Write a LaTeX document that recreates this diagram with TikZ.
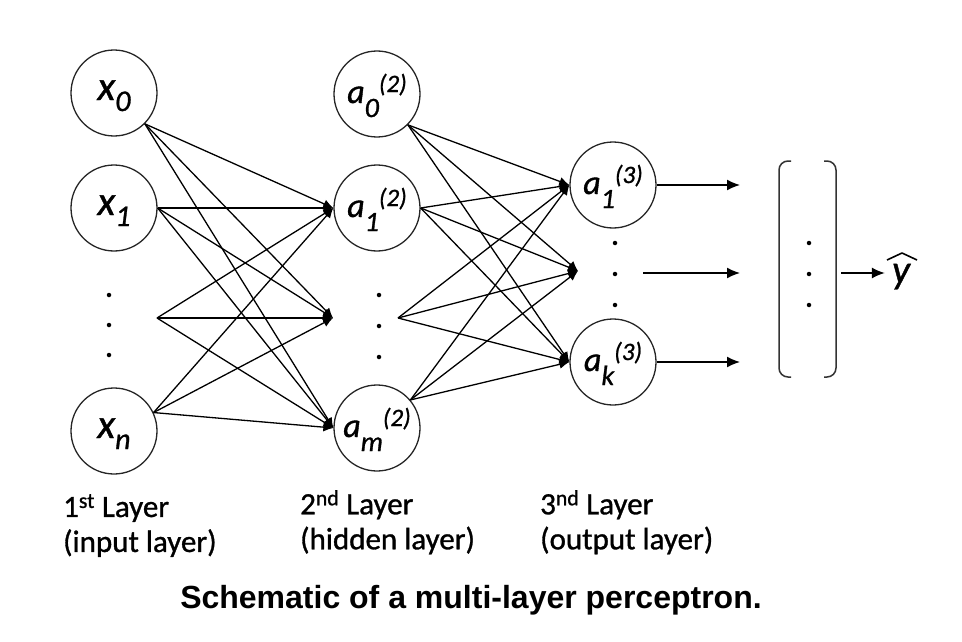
\documentclass[tikz,border=0pt]{standalone}
\usepackage{fontspec}
\setmainfont{Carlito}[FakeBold=1]
\newfontfamily\capfont{Liberation Sans}
\usetikzlibrary{arrows.meta}
\newcommand{\xsub}[1]{\raisebox{-11pt}{\fontsize{30}{30}\selectfont #1}}
\newcommand{\asub}[1]{\raisebox{-14pt}{\fontsize{28}{28}\selectfont #1}}
\newcommand{\asup}[1]{\raisebox{11pt}{\fontsize{25}{25}\selectfont #1}}

\begin{document}
\begin{tikzpicture}[x=1pt,y=-1pt]
        \tikzstyle{neuron}=[circle,draw=black!85,line width=1.3pt,minimum size=86pt,inner sep=0pt,text height=23pt,text depth=5pt,font=\fontsize{34}{36}\selectfont\itshape]
        \tikzstyle{inneuron}=[neuron,text height=20pt,text depth=6pt,font=\fontsize{41}{42}\selectfont\itshape]
        \tikzstyle{link}=[draw,line width=1.3pt,-{Latex[length=10pt,width=9pt]}]
        \tikzstyle{outarrow}=[draw,line width=1.5pt,-{Latex[length=13pt,width=11pt]}]
        \tikzstyle{dot}=[circle,fill=black,inner sep=0pt,minimum size=4.5pt]
        \tikzstyle{layer}=[align=left,anchor=north west,inner sep=0pt,font=\fontsize{31}{35}\selectfont]
        \useasboundingbox (0,0) rectangle (962,642);

        % input layer
        \node [inneuron] (x0) at (114,93) {x\xsub{0}};
        \node [inneuron] (x1) at (114,208) {x\xsub{1}};
        \node [inneuron] (xn) at (114,431) {x\xsub{n}};
        \foreach \y [count=\i] in {295,325,355}
          \node [dot] (d1\i) at (109,\y) {};
        \coordinate (h1) at (157,318);

        % hidden layer
        \node [neuron] (a0) at (377,94) {a\asub{0}\asup{(2)}};
        \node [neuron] (a1) at (377,208) {a\asub{1}\asup{(2)}};
        \node [neuron] (am) at (377,428) {a\asub{m}\asup{(2)}};
        \foreach \y [count=\i] in {295,326,357}
          \node [dot] (d2\i) at (379,\y) {};
        \coordinate (t2) at (333,318);
        \coordinate (h2) at (398,318);

        % output layer
        \node [neuron] (b1) at (613,185) {a\asub{1}\asup{(3)}};
        \node [neuron] (bk) at (613,362) {a\asub{k}\asup{(3)}};
        \foreach \y [count=\i] in {243,274,305}
          \node [dot] (d3\i) at (615,\y) {};
        \coordinate (t3) at (578,271);

        \foreach \s in {x0.south east,x1.east,h1,xn.25}
          \foreach \t in {a1.west,t2,am.west}
            \path (\s) edge[link] (\t);
        \foreach \s in {a0.south east,a1.east,h2,am.40}
          \foreach \t in {b1.west,t3,bk.west}
            \path (\s) edge[link] (\t);

        % output vector
        \coordinate (o1) at (740,185);
        \coordinate (o2s) at (643,273);
        \coordinate (o2) at (740,273);
        \coordinate (o3) at (740,362);
        \path (b1.east) edge[outarrow] (o1);
        \path (o2s) edge[outarrow] (o2);
        \path (bk.east) edge[outarrow] (o3);

        \draw [line width=1.5pt,draw=black!80,rounded corners=9pt] (791,161) -- (779,161) -- (779,377) -- (791,377);
        \draw [line width=1.5pt,draw=black!80,rounded corners=9pt] (824,161) -- (836,161) -- (836,377) -- (824,377);
        \foreach \y [count=\i] in {243,274,305}
          \node [dot] (dv\i) at (809,\y) {};
        \coordinate (v) at (841,273);
        \node [anchor=base,inner sep=7pt,font=\fontsize{40}{42}\selectfont\itshape] (yhat) at (901,283) {y};
        \draw [line width=1.6pt,line join=round] (887,260) .. controls (895,256) .. (902,253) .. controls (909,256) .. (917,260);
        \path (v) edge[outarrow] (v -| yhat.west);

        % labels
        \node [layer] (l1) at (63,494) {1\textsuperscript{st} Layer\\(input layer)};
        \node [layer] (l2) at (300,490) {2\textsuperscript{nd} Layer\\(hidden layer)};
        \node [layer] (l3) at (540,490) {3\textsuperscript{nd} Layer\\(output layer)};
        \node [font=\capfont\bfseries\fontsize{32}{36}\selectfont] (cap) at (471,600) {Schematic of a multi-layer perceptron.};
\end{tikzpicture}
\end{document}
